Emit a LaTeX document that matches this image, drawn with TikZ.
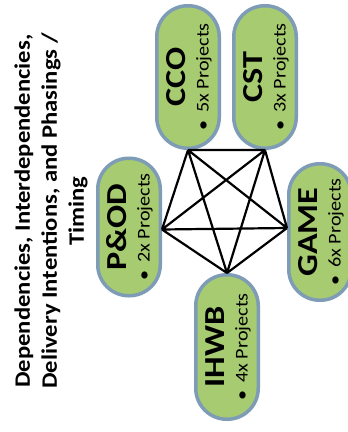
\documentclass[tikz,border=0pt]{standalone}
\usepackage{fontspec}
\setmainfont{Carlito}
\definecolor{pillgreen}{HTML}{A6CB70}
\definecolor{pillborder}{HTML}{7E9CB6}
\tikzset{
  pill/.style={draw=pillborder, line width=3.5pt, fill=pillgreen, rounded corners=31pt,
    minimum width=62.5pt, inner sep=0pt},
  pillname/.style={rotate=90, inner sep=0pt, font=\fontsize{29}{30}\selectfont\bfseries},
  pillinfo/.style={rotate=90, inner sep=0pt, font=\fontsize{18}{20}\selectfont,
    text height=12.5pt, text depth=3.5pt},
  link/.style={draw=black, line width=2.2pt, line join=round},
  titletext/.style={rotate=90, inner sep=0pt, align=center,
    font=\fontsize{22}{27}\selectfont\bfseries}
}
\begin{document}
\begin{tikzpicture}[x=1pt,y=-1pt]
\useasboundingbox (0,0) rectangle (348,432);
\fill[white] (0,0) rectangle (348,432);

% title
\node[titletext] (title) at (51,211)
  {\scalebox{1.12}[1]{Dependencies, Interdependencies,}\\
   \scalebox{1.12}[1]{Delivery Intentions, and Phasings /}\\
   \scalebox{1.12}[1]{Timing}};

% pills
\node[pill, minimum height=142.5pt] (cco)  at (188,77)  {};
\node[pill, minimum height=142.5pt] (cst)  at (265,77)  {};
\node[pill, minimum height=137.5pt] (pod)  at (129,227) {};
\node[pill, minimum height=136.5pt] (game) at (320,232) {};
\node[pill, minimum height=144.5pt] (ihwb) at (227,347) {};

% pill texts
\node[pillname] (cco-name)  at (176,77)  {\scalebox{1.18}[1]{CCO}};
\node[pillinfo] (cco-info)  at (204,77)  {\scalebox{1.12}[1]{\textbullet\hspace{0.4em}5x Projects}};
\node[pillname] (cst-name)  at (253,77)  {\scalebox{1.18}[1]{CST}};
\node[pillinfo] (cst-info)  at (281,77)  {\scalebox{1.12}[1]{\textbullet\hspace{0.4em}3x Projects}};
\node[pillname] (pod-name)  at (117,227) {\scalebox{1.18}[1]{P\&OD}};
\node[pillinfo] (pod-info)  at (145,227) {\scalebox{1.12}[1]{\textbullet\hspace{0.4em}2x Projects}};
\node[pillname] (game-name) at (308,232) {\scalebox{1.18}[1]{GAME}};
\node[pillinfo] (game-info) at (336,232) {\scalebox{1.12}[1]{\textbullet\hspace{0.4em}6x Projects}};
\node[pillname] (ihwb-name) at (215,347) {\scalebox{1.18}[1]{IHWB}};
\node[pillinfo] (ihwb-info) at (243,347) {\scalebox{1.12}[1]{\textbullet\hspace{0.4em}4x Projects}};

% pentagon vertices
\coordinate (p1) at (cco.south);
\coordinate (p2) at (cst.south);
\coordinate (p3) at ([yshift=4pt]game.west);
\coordinate (p4) at (ihwb.north);
\coordinate (p5) at ([yshift=-2.5pt]pod.east);

\draw[link] (p1) -- (p2) (p1) -- (p3) (p1) -- (p4) (p1) -- (p5)
            (p2) -- (p3) (p2) -- (p4) (p2) -- (p5)
            (p3) -- (p4) (p3) -- (p5)
            (p4) -- (p5);
\end{tikzpicture}
\end{document}
